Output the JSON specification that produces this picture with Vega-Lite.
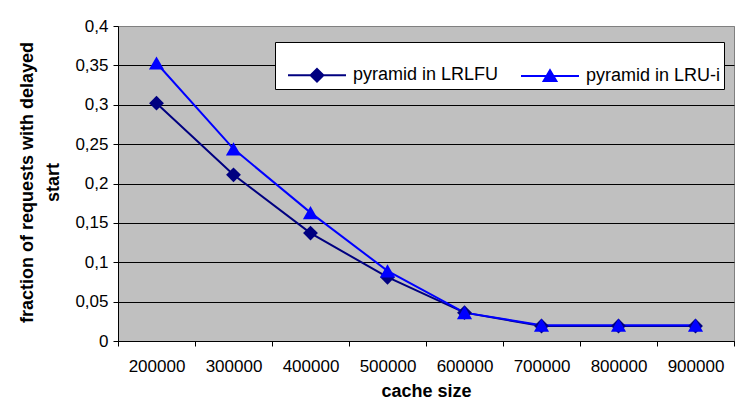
{
  "$schema": "https://vega.github.io/schema/vega-lite/v6.json",
  "width": 616,
  "height": 315,
  "autosize": {"type": "none"},
  "padding": {"left": 118, "top": 26, "right": 10, "bottom": 68},
  "background": "white",
  "config": {
    "font": "Liberation Sans",
    "view": {"fill": "#C0C0C0", "stroke": "#808080", "strokeWidth": 1}
  },
  "data": {
    "values": [
      {"series": "pyramid in LRLFU", "cache": 200000, "fraction": 0.302},
      {"series": "pyramid in LRLFU", "cache": 300000, "fraction": 0.211},
      {"series": "pyramid in LRLFU", "cache": 400000, "fraction": 0.137},
      {"series": "pyramid in LRLFU", "cache": 500000, "fraction": 0.081},
      {"series": "pyramid in LRLFU", "cache": 600000, "fraction": 0.036},
      {"series": "pyramid in LRLFU", "cache": 700000, "fraction": 0.019},
      {"series": "pyramid in LRLFU", "cache": 800000, "fraction": 0.019},
      {"series": "pyramid in LRLFU", "cache": 900000, "fraction": 0.019},
      {"series": "pyramid in LRU-i", "cache": 200000, "fraction": 0.353},
      {"series": "pyramid in LRU-i", "cache": 300000, "fraction": 0.244},
      {"series": "pyramid in LRU-i", "cache": 400000, "fraction": 0.163},
      {"series": "pyramid in LRU-i", "cache": 500000, "fraction": 0.089},
      {"series": "pyramid in LRU-i", "cache": 600000, "fraction": 0.036},
      {"series": "pyramid in LRU-i", "cache": 700000, "fraction": 0.02},
      {"series": "pyramid in LRU-i", "cache": 800000, "fraction": 0.02},
      {"series": "pyramid in LRU-i", "cache": 900000, "fraction": 0.02}
    ]
  },
  "encoding": {
    "x": {
      "field": "cache",
      "type": "quantitative",
      "scale": {"domain": [150000, 950000], "nice": false, "zero": false},
      "axis": {
        "values": [150000, 250000, 350000, 450000, 550000, 650000, 750000, 850000, 950000],
        "labelExpr": "datum.value >= 950000 ? '' : format(datum.value + 50000, 'd')",
        "labelOffset": 38.5,
        "labelOverlap": false,
        "labelBound": false,
        "labelFlush": false,
        "labelFontSize": 17,
        "labelColor": "black",
        "labelPadding": 12,
        "tickSize": 5,
        "tickColor": "black",
        "domainColor": "black",
        "grid": false,
        "title": "cache size",
        "titleFontSize": 18,
        "titleFontWeight": "bold",
        "titleColor": "black",
        "titlePadding": 8
      }
    },
    "y": {
      "field": "fraction",
      "type": "quantitative",
      "scale": {"domain": [0, 0.4], "nice": false},
      "axis": {
        "values": [0, 0.05, 0.1, 0.15, 0.2, 0.25, 0.3, 0.35, 0.4],
        "labelExpr": "replace(format(datum.value, '.2~f'), '.', ',')",
        "labelFontSize": 17,
        "labelColor": "black",
        "labelPadding": 5,
        "tickSize": 5,
        "tickColor": "black",
        "domainColor": "black",
        "grid": true,
        "gridColor": {"condition": {"test": "datum.value >= 0.4", "value": "#808080"}, "value": "black"},
        "gridOpacity": 1,
        "title": ["fraction of requests with delayed", "start"],
        "titleFontSize": 18,
        "titleFontWeight": "bold",
        "titleColor": "black",
        "titleLineHeight": 26,
        "titleBaseline": "middle",
        "titleAngle": -90,
        "titleX": -91,
        "titleY": 156
      }
    },
    "color": {
      "field": "series",
      "type": "nominal",
      "scale": {"domain": ["pyramid in LRLFU", "pyramid in LRU-i"], "range": ["#000080", "#0000FF"]},
      "legend": {
        "orient": "none",
        "legendX": 157,
        "legendY": 16,
        "direction": "horizontal",
        "title": null,
        "fillColor": "white",
        "strokeColor": "black",
        "padding": 3,
        "symbolSize": 3364,
        "symbolOffset": 9,
        "labelOffset": 6,
        "columnPadding": 12,
        "labelFontSize": 18,
        "labelColor": "black",
        "labelLimit": 300,
        "encode": {
          "symbols": {
            "update": {
              "shape": {"signal": "datum.value === 'pyramid in LRLFU' ? 'M-1,0H1M0,-0.22L0.22,0L0,0.22L-0.22,0Z' : 'M-1,0H1M0,-0.2L0.22,0.17L-0.22,0.17Z'"},
              "fill": {"signal": "datum.value === 'pyramid in LRLFU' ? '#000080' : '#0000FF'"},
              "stroke": {"signal": "datum.value === 'pyramid in LRLFU' ? '#000080' : '#0000FF'"},
              "strokeWidth": {"value": 2},
              "opacity": {"value": 1},
              "fillOpacity": {"value": 1}
            }
          }
        }
      }
    }
  },
  "layer": [
    {"mark": {"type": "line", "strokeWidth": 2}},
    {
      "transform": [{"filter": "datum.series === 'pyramid in LRLFU'"}],
      "mark": {"type": "point", "filled": true, "opacity": 1, "size": 220, "shape": "diamond"}
    },
    {
      "transform": [{"filter": "datum.series === 'pyramid in LRU-i'"}],
      "mark": {"type": "point", "filled": true, "opacity": 1, "size": 230, "shape": "triangle-up"}
    }
  ]
}
